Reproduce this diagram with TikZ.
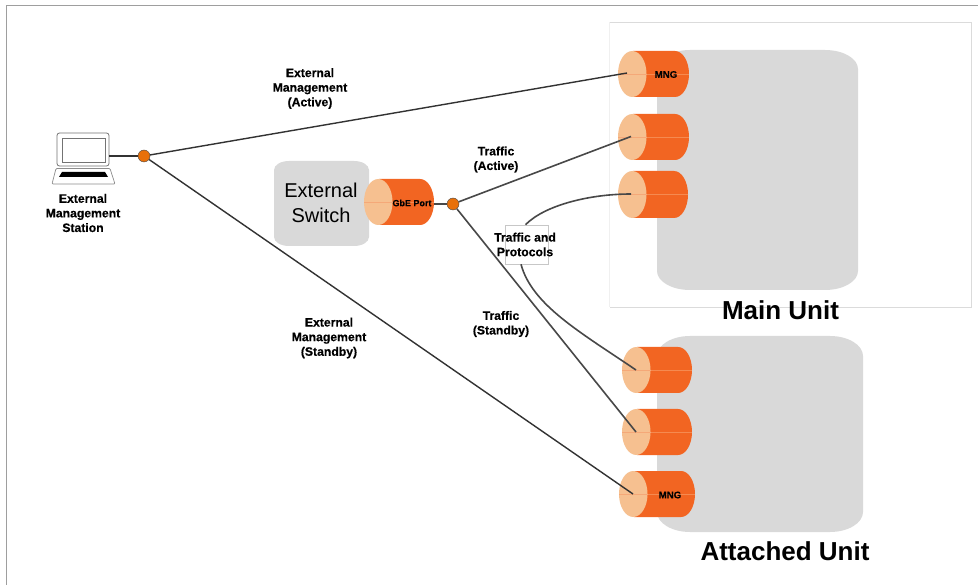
\documentclass[tikz,border=0pt]{standalone}
\usepackage{fontspec}
\setmainfont{Liberation Sans}
\newfontfamily\heavyfont[BoldFeatures={FakeBold=0.4}]{Liberation Sans}
\definecolor{bodygray}{HTML}{D9D9D9}
\definecolor{portorange}{HTML}{F26522}
\definecolor{portface}{HTML}{F6C090}
\definecolor{portmid}{HTML}{F58A50}
\definecolor{facemid}{HTML}{F5A878}
\definecolor{dotorange}{HTML}{E8700A}
\definecolor{wire}{HTML}{484848}
\tikzset{
  lbl/.style={font=\heavyfont\bfseries\fontsize{12.2}{14.6}\selectfont,align=center,inner sep=0pt,text=black},
  portlbl/.style={font=\heavyfont\bfseries\fontsize{9}{10}\selectfont,inner sep=0pt,text=black},
  mnglbl/.style={font=\heavyfont\bfseries\fontsize{9.6}{10}\selectfont,inner sep=0pt,text=black},
  unitlbl/.style={font=\bfseries\fontsize{26}{28}\selectfont,inner sep=0pt,text=black},
  wireline/.style={draw=wire,line width=1.6pt},
  mgmtline/.style={draw=wire!70!black,line width=1.4pt},
  junction/.style={circle,draw=wire,line width=0.4pt,fill=dotorange,minimum width=12pt,minimum height=12pt,inner sep=0pt},
}
% name, left, right, centre y, half height
\newcommand{\portcyl}[5]{%
  \fill[portorange] ({#2+15},{#4-#5}) -- ({#3-14},{#4-#5})
     arc[start angle=-90,end angle=90,x radius=14,y radius=#5]
     -- ({#2+15},{#4+#5}) -- cycle;
  \draw[portmid,line width=0.4pt] (#2,#4) -- (#3,#4);
  \fill[portface] ({#2+14.25},#4) ellipse [x radius=14.25,y radius=#5];
  \draw[facemid,line width=0.4pt] (#2,#4) -- ({#2+28.5},#4);
  \coordinate (#1) at ({#2+14},#4);
}
% left, top, right, bottom, rx, ry
\newcommand{\softbox}[6]{%
  \fill[bodygray] ({#1+#5},#2) -- ({#3-#5},#2)
    arc[start angle=-90,end angle=0,x radius=#5,y radius=#6]
    -- (#3,{#4-#6})
    arc[start angle=0,end angle=90,x radius=#5,y radius=#6]
    -- ({#1+#5},#4)
    arc[start angle=90,end angle=180,x radius=#5,y radius=#6]
    -- (#1,{#2+#6})
    arc[start angle=180,end angle=270,x radius=#5,y radius=#6] -- cycle;
}
\begin{document}
\begin{tikzpicture}[x=1pt,y=-1pt]
\useasboundingbox (0,0) rectangle (978,585);
\fill[white] (0,0) rectangle (978,585);
% outer border
\draw[black!38,line width=1.6pt] (6.5,585) -- (6.5,5.5) -- (978,5.5);
% main unit frame
\draw[black!6,line width=0.8pt] (609.5,22.5) -- (609.5,307);
\draw[black!14,line width=0.9pt] (609.5,22.5) -- (971,22.5) -- (971,307) -- (609.5,307);
% unit bodies
\softbox{657}{50}{858}{290}{33}{19}
\softbox{657}{336}{863}{532}{33}{20}
\softbox{274}{161}{369}{246}{15}{9}
% ports
\portcyl{mainMng}{618}{689}{74}{23}
\portcyl{mainActive}{618}{689}{137}{23}
\portcyl{mainProto}{618}{688}{194.5}{23.5}
\portcyl{attProto}{622}{692}{370}{23}
\portcyl{attStandby}{622}{692}{432}{23}
\portcyl{attMng}{619}{695}{494}{23}
\portcyl{gbePort}{364}{434}{202}{23}
\coordinate (gbeEdge) at (434,204);
\coordinate (mngEnd) at (627,73);
\coordinate (activeEnd) at (631,136.5);
\coordinate (protoEnd) at (631,194);
% laptop
\coordinate (laptopPort) at (109,156);
\draw[black!55,line width=0.8pt,fill=white,rounded corners=2.5pt] (57,133) rectangle (109,166);
\draw[black!55,line width=0.8pt,fill=white] (62,138) rectangle (105,162);
\draw[black!45,line width=0.7pt,fill=white,rounded corners=1pt] (56,168.5) -- (110,168.5) -- (115,184) -- (52,184) -- cycle;
\fill[black] (62,172) -- (105,172) -- (108,177) -- (59,177) -- cycle;
% junctions
\node[junction] (mgmtDot) at (144,156) {};
\node[junction] (trafficDot) at (453,204) {};
% traffic label box
\node[draw=black!22,line width=0.6pt,fill=white,minimum width=43pt,minimum height=39pt,inner sep=0pt] (protoBox) at (526.5,244.5) {};
% connectors
\draw[mgmtline] (laptopPort) -- (mgmtDot);
\draw[mgmtline] (mgmtDot) -- (mngEnd);
\draw[mgmtline] (mgmtDot) -- (attMng);
\draw[wireline] (gbeEdge) -- (trafficDot);
\draw[wireline] (trafficDot) -- (activeEnd);
\draw[wireline] (trafficDot) -- (attStandby);
\draw[wireline] ([xshift=-1pt]protoBox.north) .. controls (545,205) and (590,194) .. (protoEnd);
\draw[wireline] ([xshift=-5.5pt]protoBox.south) .. controls (532,305) and (580,332) .. (attProto);
% labels
\node[lbl] (tMgmtActive) at (310,88.5) {External\\Management\\(Active)};
\node[lbl] (tMgmtStandby) at (329,338) {External\\Management\\(Standby)};
\node[lbl] (tStation) at (83,213) {External\\Management\\Station};
\node[lbl] (tActive) at (496,159.5) {Traffic\\(Active)};
\node[lbl] (tProto) at (525,244.5) {Traffic and\\Protocols};
\node[lbl] (tStandby) at (501,324) {Traffic\\(Standby)};
\node[mnglbl] (tMng1) at (666,74.5) {MNG};
\node[mnglbl] (tMng2) at (670,495) {MNG};
\node[portlbl] (tGbe) at (412,203) {GbE Port};
\node[font=\fontsize{20}{25}\selectfont,align=center,inner sep=0pt] (tSwitch) at (321,203) {External\\Switch};
\node[unitlbl] (tMain) at (780.5,310) {Main Unit};
\node[unitlbl] (tAttached) at (785,551) {Attached Unit};
\end{tikzpicture}
\end{document}
